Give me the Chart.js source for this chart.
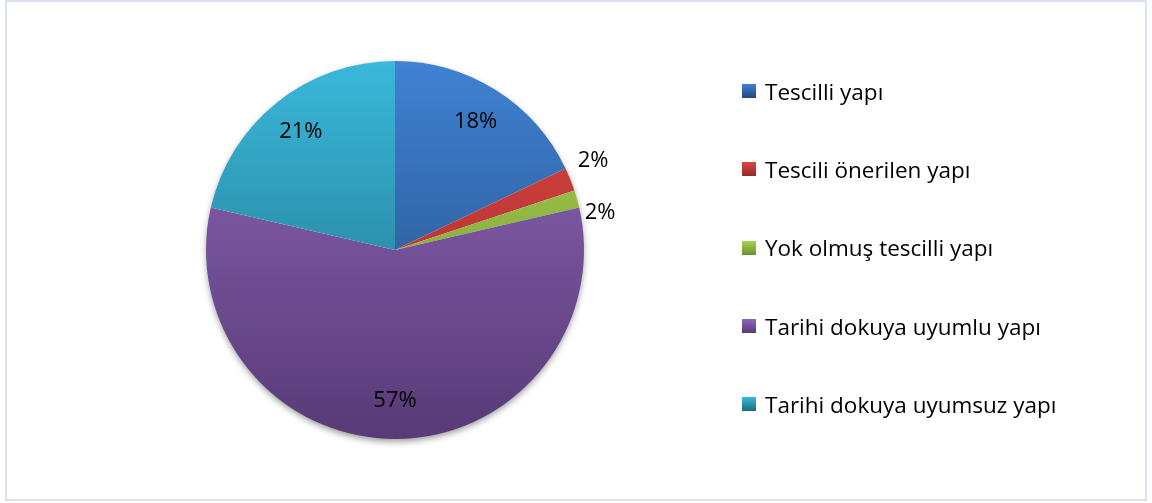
<!DOCTYPE html>
<html>
<head>
<meta charset="utf-8">
<script src="https://cdn.jsdelivr.net/npm/chart.js@4.4.1/dist/chart.umd.min.js"></script>
<style>
    html, body { margin: 0; padding: 0; background: #fff; }
    #wrap { position: relative; width: 1152px; height: 503px; overflow: hidden; }
    #frame {
        position: absolute; left: 5px; top: 0; width: 1138px; height: 497px;
        border: 2px solid #d9e2f2;
    }
    #pie { position: absolute; left: 0; top: 0; }
    #legend {
        position: absolute; left: 742px; top: 52px; margin: 0; padding: 0;
        list-style: none; font-family: "Open Sans", Lato, sans-serif; font-size: 22.5px; color: #000;
    }
    #legend li { height: 78.3px; display: flex; align-items: center; white-space: nowrap; }
    #legend span.box { display: inline-block; width: 14px; height: 14px; margin-right: 9px; }
</style>
</head>
<body>
<div id="wrap">
    <div id="frame"></div>
    <canvas id="pie" width="790" height="503"></canvas>
    <ul id="legend"></ul>
</div>
<script>
// data (share of buildings, %)
var categories = [
    "Tescilli yapı",
    "Tescili önerilen yapı",
    "Yok olmuş tescilli yapı",
    "Tarihi dokuya uyumlu yapı",
    "Tarihi dokuya uyumsuz yapı"
];
var shares = [17.9, 2.0, 1.5, 57.2, 21.4];

// light (top) and dark (bottom) end of each slice's gradient
var lightColors = ["#3f82d3", "#de4542", "#a9d34f", "#8f67b9", "#3ab8da"];
var darkColors  = ["#23477a", "#962a28", "#6d902f", "#583a77", "#1f6a80"];

function sliceGradient(context) {
    var chart = context.chart;
    var area = chart.chartArea;
    if (!area) return lightColors[context.dataIndex];
    var g = chart.ctx.createLinearGradient(0, area.top, 0, area.bottom);
    g.addColorStop(0, lightColors[context.dataIndex]);
    g.addColorStop(1, darkColors[context.dataIndex]);
    return g;
}

// soft drop shadow under the whole pie
var pieShadow = {
    id: 'pieShadow',
    beforeDatasetsDraw: function (chart) {
        var arc = chart.getDatasetMeta(0).data[0];
        if (!arc) return;
        var p = arc.getProps(['x', 'y', 'outerRadius'], true);
        var ctx = chart.ctx;
        ctx.save();
        ctx.shadowColor = 'rgba(0,0,0,0.45)';
        ctx.shadowBlur = 7;
        ctx.shadowOffsetY = 3;
        ctx.fillStyle = '#fff';
        ctx.beginPath();
        ctx.arc(p.x, p.y, p.outerRadius - 1, 0, Math.PI * 2);
        ctx.fill();
        ctx.restore();
    }
};

// percentage labels: inside for big slices, outside for thin ones
var sliceLabels = {
    id: 'sliceLabels',
    afterDatasetsDraw: function (chart) {
        var ctx = chart.ctx;
        var meta = chart.getDatasetMeta(0);
        var total = shares.reduce(function (a, b) { return a + b; }, 0);
        var outside = [];
        ctx.save();
        ctx.font = '22px "Open Sans", Lato, sans-serif';
        ctx.fillStyle = '#000';
        meta.data.forEach(function (arc, i) {
            var p = arc.getProps(['x', 'y', 'startAngle', 'endAngle', 'outerRadius'], true);
            var pct = shares[i] / total * 100;
            var text = Math.round(pct) + '%';
            var mid = (p.startAngle + p.endAngle) / 2;
            if (pct < 5) {
                var d = p.outerRadius + 8;
                outside.push({text: text, x: p.x + Math.cos(mid) * d, y: p.y + Math.sin(mid) * d});
            } else {
                var r = p.outerRadius * 0.8;
                ctx.textAlign = 'center';
                ctx.textBaseline = 'middle';
                ctx.fillText(text, p.x + Math.cos(mid) * r, p.y + Math.sin(mid) * r);
            }
        });
        // keep outside labels from overlapping
        if (outside.length > 1) {
            var gap = 52;
            var mean = outside.reduce(function (a, o) { return a + o.y; }, 0) / outside.length;
            var first = mean - gap * (outside.length - 1) / 2;
            outside.forEach(function (o, k) { o.y = first + k * gap; });
        }
        ctx.textAlign = 'left';
        ctx.textBaseline = 'middle';
        outside.forEach(function (o) { ctx.fillText(o.text, o.x, o.y); });
        ctx.restore();
    }
};

var chart = new Chart(document.getElementById('pie').getContext('2d'), {
    type: 'pie',
    data: {
        labels: categories,
        datasets: [{
            data: shares,
            backgroundColor: sliceGradient,
            borderWidth: 0
        }]
    },
    options: {
        responsive: false,
        animation: false,
        layout: { padding: { top: 61, bottom: 64, left: 0, right: 0 } },
        plugins: {
            legend: { display: false },
            tooltip: { enabled: false }
        }
    },
    plugins: [pieShadow, sliceLabels]
});

// html legend built from the same arrays
var legend = document.getElementById('legend');
categories.forEach(function (name, i) {
    var li = document.createElement('li');
    var box = document.createElement('span');
    box.className = 'box';
    box.style.background = 'linear-gradient(' + lightColors[i] + ', ' + darkColors[i] + ')';
    li.appendChild(box);
    li.appendChild(document.createTextNode(name));
    legend.appendChild(li);
});
</script>
</body>
</html>
